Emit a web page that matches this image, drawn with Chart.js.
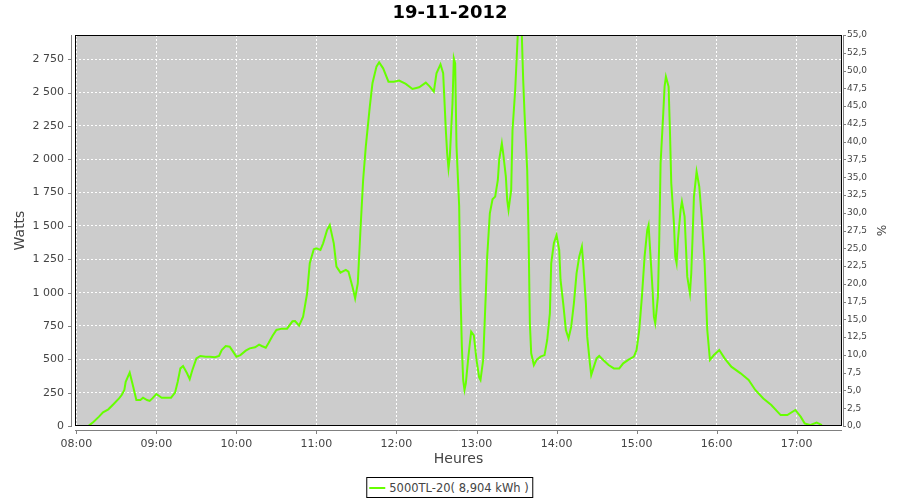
<!DOCTYPE html>
<html>
<head>
<meta charset="utf-8">
<script src="https://cdn.jsdelivr.net/npm/chart.js@4.4.0/dist/chart.umd.min.js"></script>
<style>
  html, body { margin: 0; padding: 0; background: #fff; }
  #wrap { position: relative; width: 900px; height: 500px; }
  #legend {
    position: absolute; top: 477px; left: 50%; transform: translateX(-50%);
    height: 19px; padding: 0 4px 0 2px; border: 1px solid #000; background: #fff;
    display: flex; align-items: center; white-space: nowrap;
    font: 11.5px "DejaVu Sans", sans-serif; color: #444;
  }
  #legend .sample { display: inline-block; width: 16px; height: 2px; margin-right: 4px; }
</style>
</head>
<body>
<div id="wrap">
  <canvas id="chart" width="900" height="500"></canvas>
  <div id="legend"></div>
</div>
<script>
const chartTitle = '19-11-2012';
const seriesName = '5000TL-20( 8,904 kWh )';

// relevés de l'onduleur (heure, puissance en W)
const times = [
    '08:09', '08:13', '08:17', '08:20', '08:24', '08:28', '08:32', '08:34', '08:36', '08:37', '08:40', '08:42', '08:45', '08:48', '08:50', '08:53', '08:55', '08:57',
    '09:00', '09:04', '09:08', '09:11', '09:14', '09:16', '09:18', '09:20', '09:23', '09:25', '09:27', '09:30', '09:33', '09:37', '09:40', '09:44', '09:47', '09:49', '09:52', '09:55', '09:58',
    '10:00', '10:03', '10:07', '10:10', '10:14', '10:17', '10:19', '10:22', '10:24', '10:27', '10:30', '10:34', '10:38', '10:42', '10:44', '10:47', '10:50', '10:53', '10:55', '10:58',
    '11:00', '11:03', '11:05', '11:08', '11:10', '11:13', '11:15', '11:18', '11:22', '11:24', '11:27', '11:29', '11:31', '11:33', '11:35', '11:37', '11:40', '11:42', '11:45', '11:47', '11:50', '11:54', '11:58',
    '12:02', '12:07', '12:12', '12:17', '12:22', '12:25', '12:28', '12:30', '12:33', '12:35', '12:37', '12:38', '12:39', '12:40', '12:42', '12:43', '12:44', '12:45', '12:47', '12:48', '12:49', '12:50', '12:51', '12:52', '12:54', '12:56', '12:58',
    '13:00', '13:02', '13:03', '13:05', '13:07', '13:08', '13:10', '13:12', '13:14', '13:16', '13:17', '13:19', '13:20', '13:22', '13:23', '13:24', '13:26', '13:27', '13:29', '13:31', '13:32', '13:33', '13:34', '13:35', '13:36', '13:38', '13:39', '13:40', '13:41', '13:43', '13:45', '13:48', '13:51', '13:53', '13:55', '13:56', '13:58',
    '14:00', '14:02', '14:03', '14:05', '14:07', '14:09', '14:11', '14:13', '14:15', '14:17', '14:19', '14:20', '14:22', '14:23', '14:25', '14:26', '14:28', '14:30', '14:32', '14:35', '14:39', '14:43', '14:47', '14:50', '14:54', '14:58',
    '15:00', '15:02', '15:04', '15:06', '15:08', '15:09', '15:10', '15:12', '15:13', '15:14', '15:16', '15:17', '15:18', '15:20', '15:21', '15:22', '15:24', '15:25', '15:26', '15:28', '15:29', '15:30', '15:31', '15:33', '15:34', '15:36', '15:37', '15:38', '15:40', '15:41', '15:42', '15:43', '15:45', '15:47', '15:49', '15:51', '15:52', '15:53', '15:55', '15:58',
    '16:02', '16:06', '16:11', '16:18', '16:24', '16:29', '16:35', '16:41', '16:48', '16:53', '16:59',
    '17:03', '17:06', '17:10', '17:15', '17:19'
];
const watts = [
    0, 32, 70, 102, 125, 165, 207, 232, 270, 332, 400, 320, 195, 195, 212, 195, 188, 207,
    240, 212, 212, 212, 250, 332, 432, 450, 395, 352, 420, 507, 525, 520, 520, 515, 525, 570, 600, 595, 550,
    520, 532, 565, 582, 590, 610, 600, 587, 620, 675, 720, 730, 730, 785, 787, 752, 820, 995, 1220, 1325,
    1332, 1320, 1370, 1470, 1507, 1370, 1195, 1150, 1170, 1157, 1045, 957, 1070, 1470, 1845, 2095, 2395, 2570, 2695, 2727, 2682, 2582, 2582,
    2590, 2565, 2527, 2540, 2575, 2545, 2507, 2645, 2712, 2645, 2220, 2045, 1932, 2020, 2420, 2757, 2720, 2100, 1650, 1000, 600, 345, 270, 320, 530, 707, 680,
    495, 365, 345, 495, 1000, 1270, 1595, 1700, 1720, 1845, 1995, 2120, 2045, 1870, 1695, 1620, 1770, 2220, 2520, 2950, 3100, 3050, 2920, 2595, 2345, 1920, 1450, 770, 545, 457, 495, 520, 532, 645, 845, 1220, 1370,
    1432, 1320, 1095, 920, 720, 657, 745, 920, 1145, 1270, 1345, 1220, 920, 670, 470, 382, 445, 507, 525, 495, 457, 432, 432, 470, 498, 520,
    570, 720, 970, 1270, 1470, 1507, 1345, 1020, 820, 770, 970, 1395, 1970, 2345, 2545, 2620, 2545, 2220, 1820, 1520, 1270, 1220, 1395, 1620, 1682, 1570, 1345, 1120, 995, 1145, 1420, 1720, 1907, 1795, 1545, 1220, 970, 720, 495, 532,
    570, 507, 445, 395, 345, 270, 207, 157, 82, 82, 120,
    70, 20, 7, 25, 7
];

// axes
const hourTicks = ['08:00', '09:00', '10:00', '11:00', '12:00', '13:00', '14:00', '15:00', '16:00', '17:00'];
const wattTicks = [0, 250, 500, 750, 1000, 1250, 1500, 1750, 2000, 2250, 2500, 2750];
const percentTicks = [0, 2.5, 5, 7.5, 10, 12.5, 15, 17.5, 20, 22.5, 25, 27.5, 30, 32.5, 35, 37.5, 40, 42.5, 45, 47.5, 50, 52.5, 55];
const timeRange = ['07:59', '17:34'];
const wattMax = 2932;
const percentMax = 55;

const lineColor = '#66ff00';
const tickColor = '#444444';
const axisColor = '#808080';

function toMinutes(hhmm) {
    const [h, m] = hhmm.split(':').map(Number);
    return h * 60 + m;
}

function formatTime(minutes) {
    const h = Math.floor(minutes / 60);
    const m = Math.round(minutes % 60);
    return String(h).padStart(2, '0') + ':' + String(m).padStart(2, '0');
}

function formatWatts(v) {
    return String(v).replace(/\B(?=(\d{3})+(?!\d))/g, ' ');
}

// fond gris de la zone de tracé
const plotBackground = {
    id: 'plotBackground',
    beforeDraw(chart) {
        const { ctx, chartArea: a } = chart;
        ctx.save();
        ctx.fillStyle = '#cccccc';
        ctx.fillRect(a.left, a.top, a.right - a.left, a.bottom - a.top);
        ctx.restore();
    }
};

// cadre noir + axes gris décalés, façon JFreeChart
const plotFrame = {
    id: 'plotFrame',
    afterDatasetsDraw(chart) {
        const { ctx, chartArea: a, scales } = chart;
        ctx.save();
        ctx.lineWidth = 1;
        ctx.strokeStyle = '#000';
        ctx.strokeRect(a.left + 0.5, a.top + 0.5, a.right - a.left - 1, a.bottom - a.top - 1);

        ctx.strokeStyle = axisColor;
        ctx.beginPath();
        // axe gauche
        ctx.moveTo(a.left - 3.5, a.top);
        ctx.lineTo(a.left - 3.5, a.bottom);
        scales.y.ticks.forEach(t => {
            const py = Math.round(scales.y.getPixelForValue(t.value)) + 0.5;
            ctx.moveTo(a.left - 7, py);
            ctx.lineTo(a.left - 3, py);
        });
        // axe du bas
        ctx.moveTo(a.left, a.bottom + 4.5);
        ctx.lineTo(a.right, a.bottom + 4.5);
        scales.x.ticks.forEach(t => {
            const px = Math.round(scales.x.getPixelForValue(t.value)) + 0.5;
            ctx.moveTo(px, a.bottom + 4);
            ctx.lineTo(px, a.bottom + 8);
        });
        // axe de droite
        ctx.moveTo(a.right + 1.5, a.top);
        ctx.lineTo(a.right + 1.5, a.bottom);
        scales.y1.ticks.forEach(t => {
            const py = Math.round(scales.y1.getPixelForValue(t.value)) + 0.5;
            ctx.moveTo(a.right + 1, py);
            ctx.lineTo(a.right + 4, py);
        });
        ctx.stroke();
        ctx.restore();
    }
};

const points = times.map((t, i) => ({ x: toMinutes(t), y: watts[i] }));

const ctx = document.getElementById('chart').getContext('2d');
const chart = new Chart(ctx, {
    type: 'line',
    data: {
        datasets: [{
            label: seriesName,
            data: points,
            borderColor: lineColor,
            backgroundColor: lineColor,
            borderWidth: 2,
            pointRadius: 0,
            tension: 0,
            yAxisID: 'y'
        }]
    },
    options: {
        responsive: false,
        animation: false,
        layout: { padding: 0 },
        plugins: {
            legend: { display: false },
            tooltip: { enabled: false },
            title: {
                display: true,
                text: chartTitle,
                color: '#000',
                font: { family: 'DejaVu Sans', size: 18, weight: 'bold' },
                padding: { top: 3, bottom: 10.4 }
            }
        },
        scales: {
            x: {
                type: 'linear',
                min: toMinutes(timeRange[0]),
                max: toMinutes(timeRange[1]),
                afterBuildTicks: s => { s.ticks = hourTicks.map(h => ({ value: toMinutes(h) })); },
                afterFit: s => { s.height = 74; },
                border: { display: false, dash: [2, 2] },
                grid: { color: '#ffffff', drawTicks: false },
                ticks: {
                    autoSkip: false, maxRotation: 0, padding: 12, color: tickColor,
                    font: { family: 'DejaVu Sans', size: 11 },
                    callback: v => formatTime(v)
                },
                title: {
                    display: true, text: 'Heures', color: '#444',
                    font: { family: 'DejaVu Sans', size: 14 },
                    padding: { top: 0, bottom: 32 }
                }
            },
            y: {
                position: 'left',
                min: 0,
                max: wattMax,
                afterBuildTicks: s => { s.ticks = wattTicks.map(v => ({ value: v })); },
                afterFit: s => { s.width = 75; },
                border: { display: false, dash: [2, 2] },
                grid: { color: '#ffffff', drawTicks: false },
                ticks: {
                    autoSkip: false, padding: 11, color: tickColor,
                    font: { family: 'DejaVu Sans', size: 11 },
                    callback: v => formatWatts(v)
                },
                title: {
                    display: true, text: 'Watts', color: '#444',
                    font: { family: 'DejaVu Sans', size: 14 },
                    padding: { top: 12, bottom: 0 }
                }
            },
            y1: {
                position: 'right',
                min: 0,
                max: percentMax,
                afterBuildTicks: s => { s.ticks = percentTicks.map(v => ({ value: v })); },
                afterFit: s => { s.width = 58; },
                border: { display: false },
                grid: { display: false, drawTicks: false },
                ticks: {
                    autoSkip: false, padding: 5, color: tickColor,
                    font: { family: 'DejaVu Sans', size: 9 },
                    callback: v => v.toFixed(1).replace('.', ',')
                },
                title: {
                    display: true, text: '%', color: '#444',
                    font: { family: 'DejaVu Sans', size: 12 },
                    padding: { top: 13, bottom: 0 }
                }
            }
        }
    },
    plugins: [plotBackground, plotFrame]
});

// légende encadrée sous le graphique
function updateLegend() {
    const legend = document.getElementById('legend');
    legend.innerHTML = '';
    chart.data.datasets.forEach(ds => {
        const sample = document.createElement('span');
        sample.className = 'sample';
        sample.style.backgroundColor = ds.borderColor;
        const label = document.createElement('span');
        label.textContent = ds.label;
        legend.appendChild(sample);
        legend.appendChild(label);
    });
}
updateLegend();
</script>
</body>
</html>
